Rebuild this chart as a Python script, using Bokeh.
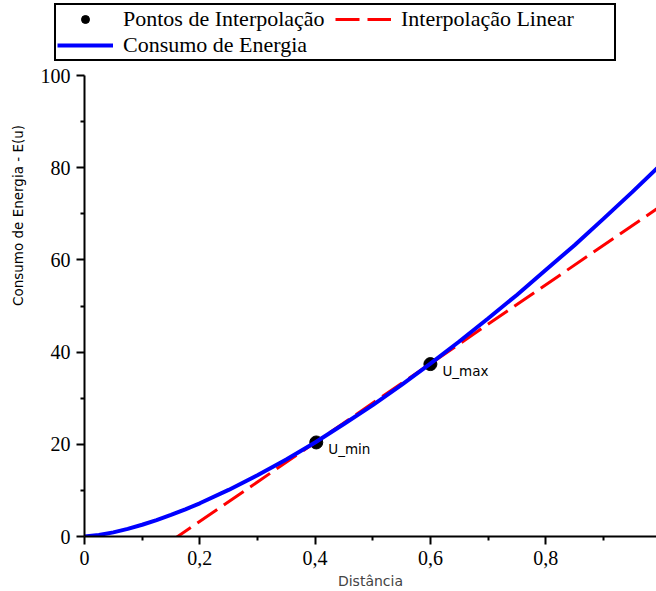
import math
from bokeh.plotting import figure
from bokeh.layouts import column, row
from bokeh.models import (FixedTicker, CustomJSTickFormatter, Legend, LegendItem,
                          Label, Range1d, ColumnDataSource)
from bokeh.core.properties import value
from bokeh.embed import file_html
from bokeh.resources import INLINE

# ---- data ----
u_curve = [0.0, 0.025, 0.05, 0.075, 0.10, 0.125, 0.15, 0.175, 0.20, 0.25, 0.30, 0.35,
           0.40, 0.45, 0.50, 0.55, 0.60, 0.65, 0.70, 0.75, 0.80, 0.85, 0.90, 0.95, 1.00]
e_curve = [0.0, 0.32, 0.9, 1.66, 2.55, 3.57, 4.7, 5.9, 7.2, 10.1, 13.3, 16.7,
           20.4, 24.4, 28.5, 32.9, 37.5, 42.3, 47.3, 52.4, 57.8, 63.2, 68.9, 74.7, 80.7]
interp_x = [0.402, 0.600]
interp_y = [20.4, 37.4]
interp_labels = ["U_min", "U_max"]
linear_x = [0.15, 1.00]
linear_y = [-1.0, 71.7]
x_ticks = [0, 0.2, 0.4, 0.6, 0.8]
x_minor = [0.1, 0.3, 0.5, 0.7, 0.9]
y_ticks = [0, 20, 40, 60, 80, 100]
y_minor = [10, 30, 50, 70, 90]
legend_labels = ["Pontos de Interpolação", "Interpolação Linear", "Consumo de Energia"]
x_title = "Distância"
y_title = "Consumo de Energia - E(u)"

SERIF = "Liberation Serif"
SANS = "DejaVu Sans"
DASH = "24 8"

# ---------------- main plot ----------------
p = figure(width=626, height=529, output_backend="svg", toolbar_location=None,
           x_range=Range1d(0, 0.9922), y_range=Range1d(0, 100),
           min_border_left=54, min_border_right=0, min_border_top=13, min_border_bottom=55)
p.outline_line_color = None
p.grid.visible = False

for ax in (p.xaxis[0], p.yaxis[0]):
    ax.axis_line_width = 2
    ax.axis_line_color = "black"
    ax.major_tick_line_width = 2
    ax.minor_tick_line_width = 2
    ax.major_tick_out = 8
    ax.major_tick_in = 0
    ax.minor_tick_out = 4
    ax.minor_tick_in = 0
    ax.major_label_text_font = SERIF
    ax.major_label_text_font_size = "20px"
    ax.major_label_text_color = "black"

p.xaxis.ticker = FixedTicker(ticks=x_ticks, minor_ticks=x_minor)
p.yaxis.ticker = FixedTicker(ticks=y_ticks, minor_ticks=y_minor)
p.xaxis.formatter = CustomJSTickFormatter(
    code="return tick === 0 ? '0' : tick.toFixed(1).replace('.', ',');")
p.xaxis.major_label_standoff = 6
p.yaxis.major_label_standoff = 6
p.xaxis.axis_label = x_title
p.xaxis.axis_label_text_font = SANS
p.xaxis.axis_label_text_font_style = "normal"
p.xaxis.axis_label_text_font_size = "14px"
p.xaxis.axis_label_standoff = 5

p.scatter(interp_x, interp_y, size=13, color="black")
p.line(linear_x, linear_y, line_color="red", line_width=3, line_dash=DASH)
p.line(u_curve, e_curve, line_color="blue", line_width=4)

src = ColumnDataSource(dict(x=interp_x, y=interp_y, t=interp_labels))
p.text(x="x", y="y", text="t", source=src, x_offset=12, y_offset=7,
       text_font=value(SANS), text_font_size="13.5px", text_baseline="middle",
       text_color="black")

# ---------------- y-axis title strip ----------------
ly = figure(width=30, height=529, output_backend="svg", toolbar_location=None,
            x_range=Range1d(0, 1), y_range=Range1d(0, 1), min_border=0)
ly.axis.visible = False
ly.grid.visible = False
ly.outline_line_color = None
ly.add_layout(Label(x=17, y=321, x_units="screen", y_units="screen", text=y_title,
                    angle=math.pi / 2, text_font=SANS, text_font_size="13.5px",
                    text_align="center", text_baseline="middle", text_color="black"))

# ---------------- legend strip ----------------
# same series drawn again, but out of this strip's view: they only feed the legend
lg = figure(width=656, height=62, output_backend="svg", toolbar_location=None,
            x_range=Range1d(0, 1), y_range=Range1d(-1000, -999), min_border=0)
lg.axis.visible = False
lg.grid.visible = False
lg.outline_line_color = None
r_pts = lg.scatter(interp_x, interp_y, size=13, color="black")
r_lin = lg.line(linear_x, linear_y, line_color="red", line_width=3, line_dash=DASH)
r_cur = lg.line(u_curve, e_curve, line_color="blue", line_width=4)

legend = Legend(items=[
    LegendItem(label=legend_labels[0], renderers=[r_pts]),
    LegendItem(label=legend_labels[1], renderers=[r_lin]),
    LegendItem(label=legend_labels[2], renderers=[r_cur]),
], location=(54, 1), orientation="horizontal", ncols=2)
legend.label_text_font = SERIF
legend.label_text_font_size = "22px"
legend.label_text_color = "black"
legend.glyph_width = 56
legend.glyph_height = 20
legend.label_standoff = 10
legend.label_height = 20
legend.label_width = 212
legend.spacing = 0
legend.padding = 1
legend.margin = 0
legend.border_line_color = "black"
legend.border_line_alpha = 1
legend.border_line_width = 2
legend.background_fill_alpha = 1
lg.add_layout(legend)

layout = column(lg, row(ly, p, spacing=0), spacing=0)
open("out.html", "w").write(file_html(layout, INLINE))
